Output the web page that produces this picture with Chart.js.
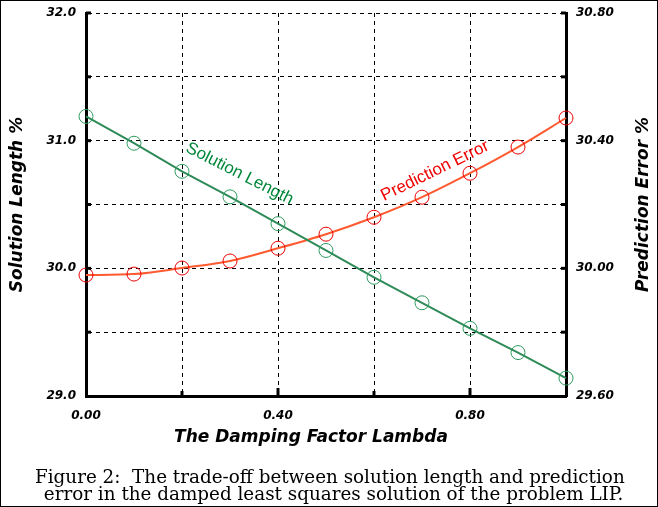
<!DOCTYPE html>
<html>
<head>
<meta charset="utf-8">
<script src="https://cdn.jsdelivr.net/npm/chart.js@4/dist/chart.umd.min.js"></script>
<style>
  html, body { margin: 0; padding: 0; background: #fff; }
  #wrap { width: 658px; height: 507px; position: relative; }
</style>
</head>
<body>
<div id="wrap"><canvas id="dampChart" width="658" height="507"></canvas></div>
<script>
// lambda values on the x axis
const lambdas = [0.0, 0.1, 0.2, 0.3, 0.4, 0.5, 0.6, 0.7, 0.8, 0.9, 1.0];
// Solution Length % (left axis)
const solutionLength = [31.19, 30.98, 30.76, 30.56, 30.35, 30.14, 29.93, 29.73, 29.53, 29.34, 29.14];
// Prediction Error % (right axis)
const predictionError = [29.979, 29.982, 30.001, 30.023, 30.063, 30.107, 30.16, 30.223, 30.298, 30.38, 30.471];

const xTickLabels = ["0.00", "0.40", "0.80"];
const leftTickLabels = ["29.0", "30.0", "31.0", "32.0"];
const rightTickLabels = ["29.60", "30.00", "30.40", "30.80"];

const xTitle = "The Damping Factor Lambda";
const leftTitle = "Solution Length %";
const rightTitle = "Prediction Error %";

const captionLines = [
  "Figure 2:  The trade-off between solution length and prediction",
  " error in the damped least squares solution of the problem LIP."
];

const tickFont = { family: "'DejaVu Sans', sans-serif", size: 12, weight: "bold", style: "italic" };
const titleCss = "italic bold 17px 'DejaVu Sans', sans-serif";

// curve labels, inner ticks, axis titles, frame, caption
const extrasPlugin = {
  id: "extras",
  afterDatasetsDraw(chart) {
    const ctx = chart.ctx;
    const x = chart.scales.x, yl = chart.scales.y, yr = chart.scales.y1;
    const area = chart.chartArea;
    ctx.save();
    // short inner tick marks on the axes
    ctx.strokeStyle = "#000";
    ctx.lineWidth = 3;
    [29.5, 30, 30.5, 31, 31.5, 32].forEach((v) => {
      const py = yl.getPixelForValue(v);
      ctx.beginPath(); ctx.moveTo(area.left, py); ctx.lineTo(area.left + 5, py); ctx.stroke();
      ctx.beginPath(); ctx.moveTo(area.right - 5, py); ctx.lineTo(area.right, py); ctx.stroke();
    });
    [0.2, 0.4, 0.6, 0.8].forEach((v, i) => {
      const px = x.getPixelForValue(v);
      ctx.beginPath(); ctx.moveTo(px, area.bottom); ctx.lineTo(px, area.bottom - (i % 2 ? 8 : 5)); ctx.stroke();
    });

    ctx.font = "17px 'Liberation Sans', Arial, sans-serif";
    ctx.textAlign = "center";
    ctx.textBaseline = "middle";

    ctx.save();
    ctx.translate(x.getPixelForValue(0.32), yl.getPixelForValue(30.74));
    ctx.rotate(27 * Math.PI / 180);
    ctx.fillStyle = "#00873a";
    ctx.fillText("Solution Length", 0, 0);
    ctx.restore();

    ctx.save();
    ctx.translate(x.getPixelForValue(0.727), yr.getPixelForValue(30.305));
    ctx.rotate(-26 * Math.PI / 180);
    ctx.fillStyle = "#f00000";
    ctx.fillText("Prediction Error", 0, 0);
    ctx.restore();
    ctx.restore();
  },
  afterDraw(chart) {
    const ctx = chart.ctx;
    const area = chart.chartArea;
    const midY = (area.top + area.bottom) / 2;
    ctx.save();
    // axis titles
    ctx.fillStyle = "#000";
    ctx.font = titleCss;
    ctx.textAlign = "center";
    ctx.textBaseline = "middle";
    ctx.fillText(xTitle, 311, 438);
    ctx.save();
    ctx.translate(18, midY);
    ctx.rotate(-Math.PI / 2);
    ctx.fillText(leftTitle, 0, 0);
    ctx.restore();
    ctx.save();
    ctx.translate(644, midY);
    ctx.rotate(-Math.PI / 2);
    ctx.fillText(rightTitle, 0, 0);
    ctx.restore();

    // caption
    ctx.textBaseline = "alphabetic";
    ctx.textAlign = "left";
    let size = 17;
    ctx.font = size + "px 'DejaVu Serif', 'Liberation Serif', serif";
    const w = ctx.measureText(captionLines[0]).width;
    size = size * 590 / w;
    ctx.font = size.toFixed(2) + "px 'DejaVu Serif', 'Liberation Serif', serif";
    ctx.fillText(captionLines[0], 35, 483);
    ctx.fillText(captionLines[1], 38, 500);
    // outer frame
    ctx.strokeStyle = "#000";
    ctx.lineWidth = 1;
    ctx.strokeRect(0.5, 0.5, chart.width - 1, chart.height - 1);
    ctx.restore();
  }
};

new Chart(document.getElementById("dampChart").getContext("2d"), {
  type: "line",
  data: {
    datasets: [
      {
        label: "Solution Length",
        data: lambdas.map((l, i) => ({ x: l, y: solutionLength[i] })),
        yAxisID: "y",
        borderColor: "#2e8b57",
        borderWidth: 2,
        pointStyle: "circle",
        pointRadius: 7,
        pointBorderWidth: 1,
        pointBorderColor: "#2e9b5f",
        pointBackgroundColor: "rgba(0,0,0,0)",
        tension: 0
      },
      {
        label: "Prediction Error",
        data: lambdas.map((l, i) => ({ x: l, y: predictionError[i] })),
        yAxisID: "y1",
        borderColor: "#ff5a30",
        borderWidth: 2,
        pointStyle: "circle",
        pointRadius: 7,
        pointBorderWidth: 1,
        pointBorderColor: "#ee0000",
        pointBackgroundColor: "rgba(0,0,0,0)",
        cubicInterpolationMode: "monotone"
      }
    ]
  },
  options: {
    responsive: false,
    animation: false,
    clip: false,
    layout: { padding: { left: 0, right: 0, top: 13, bottom: 50 } },
    plugins: { legend: { display: false }, tooltip: { enabled: false } },
    scales: {
      x: {
        type: "linear",
        min: 0,
        max: 1.0,
        afterFit: (s) => { s.height = 61; s.paddingLeft = 0; s.paddingRight = 0; },
        afterBuildTicks: (s) => {
          s.ticks = [0, 0.2, 0.4, 0.6, 0.8, 1.0].map((v) => ({ value: v }));
        },
        ticks: {
          autoSkip: false,
          maxRotation: 0,
          padding: 13,
          color: "#000",
          font: tickFont,
          callback: (v) => {
            const idx = [0, 0.4, 0.8].findIndex((t) => Math.abs(t - v) < 1e-6);
            return idx >= 0 ? xTickLabels[idx] : "";
          }
        },
        grid: { color: "#000", lineWidth: 1, drawTicks: false },
        border: { display: true, color: "#000", width: 3, dash: [4, 4] }
      },
      y: {
        position: "left",
        min: 29,
        max: 32,
        afterFit: (s) => { s.width = 86; s.paddingTop = 0; s.paddingBottom = 0; },
        afterBuildTicks: (s) => {
          s.ticks = [29, 29.5, 30, 30.5, 31, 31.5, 32].map((v) => ({ value: v }));
        },
        ticks: {
          padding: 10,
          color: "#000",
          font: tickFont,
          callback: (v) => {
            const idx = [29, 30, 31, 32].indexOf(v);
            return idx >= 0 ? leftTickLabels[idx] : "";
          }
        },
        grid: { color: "#000", lineWidth: 1, drawTicks: false },
        border: { display: true, color: "#000", width: 3, dash: [4, 4] }
      },
      y1: {
        position: "right",
        min: 29.6,
        max: 30.8,
        afterFit: (s) => { s.width = 92; s.paddingTop = 0; s.paddingBottom = 0; },
        afterBuildTicks: (s) => {
          s.ticks = [29.6, 30.0, 30.4, 30.8].map((v) => ({ value: v }));
        },
        ticks: {
          padding: 10,
          color: "#000",
          font: tickFont,
          callback: (v, i) => rightTickLabels[i]
        },
        grid: { display: false, drawTicks: false },
        border: { display: true, color: "#000", width: 3 }
      }
    }
  },
  plugins: [extrasPlugin]
});
</script>
</body>
</html>
